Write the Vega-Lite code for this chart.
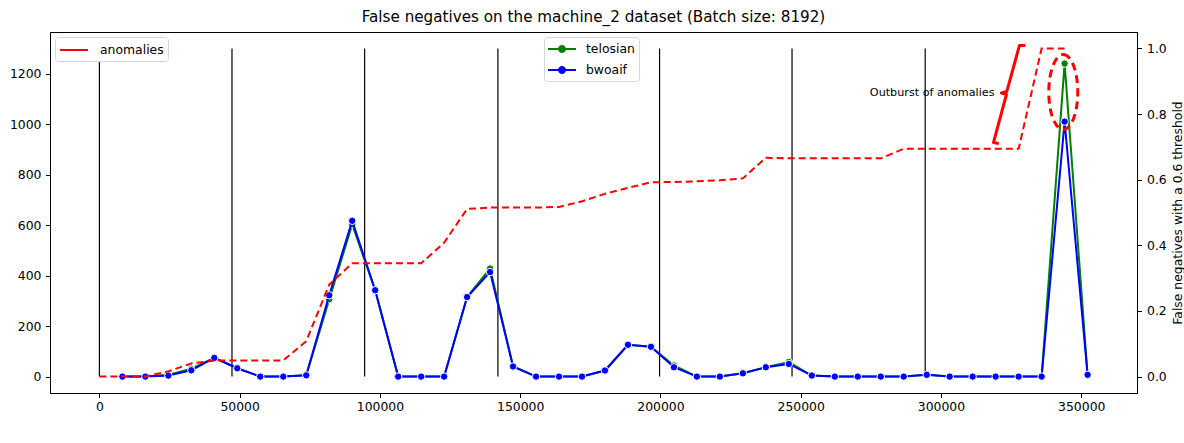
{
  "$schema": "https://vega.github.io/schema/vega-lite/v6.json",
  "width": 1087,
  "height": 361,
  "autosize": {"type": "none"},
  "padding": {"left": 50, "top": 32, "right": 47, "bottom": 50},
  "background": "white",
  "title": {"text": "False negatives on the machine_2 dataset (Batch size: 8192)", "fontSize": 15.2, "font": "DejaVu Sans", "fontWeight": "normal", "color": "#000", "offset": 7, "anchor": "middle"},
  "config": {
    "font": "DejaVu Sans",
    "view": {"stroke": "#000", "strokeWidth": 1},
    "axis": {"grid": false, "domainColor": "#000", "tickColor": "#000", "labelColor": "#000", "labelFontSize": 12.4, "tickSize": 4.5, "labelFont": "DejaVu Sans", "titleFont": "DejaVu Sans", "titleFontWeight": "normal", "titleColor": "#000", "titleFontSize": 12.4, "labelFlush": false}
  },
  "datasets": {
    "fn": [
      {"x": 8192, "telosian": 0, "bwoaif": 0},
      {"x": 16384, "telosian": 0, "bwoaif": 0},
      {"x": 24576, "telosian": 6, "bwoaif": 4},
      {"x": 32768, "telosian": 31, "bwoaif": 25},
      {"x": 40960, "telosian": 74, "bwoaif": 74},
      {"x": 49152, "telosian": 33, "bwoaif": 33},
      {"x": 57344, "telosian": 0, "bwoaif": 0},
      {"x": 65536, "telosian": 0, "bwoaif": 0},
      {"x": 73728, "telosian": 5, "bwoaif": 5},
      {"x": 81920, "telosian": 306, "bwoaif": 322},
      {"x": 90112, "telosian": 603, "bwoaif": 617},
      {"x": 98304, "telosian": 342, "bwoaif": 342},
      {"x": 106496, "telosian": 0, "bwoaif": 0},
      {"x": 114688, "telosian": 0, "bwoaif": 0},
      {"x": 122880, "telosian": 0, "bwoaif": 0},
      {"x": 131072, "telosian": 315, "bwoaif": 315},
      {"x": 139264, "telosian": 428, "bwoaif": 414},
      {"x": 147456, "telosian": 40, "bwoaif": 40},
      {"x": 155648, "telosian": 0, "bwoaif": 0},
      {"x": 163840, "telosian": 0, "bwoaif": 0},
      {"x": 172032, "telosian": 0, "bwoaif": 0},
      {"x": 180224, "telosian": 24, "bwoaif": 24},
      {"x": 188416, "telosian": 126, "bwoaif": 126},
      {"x": 196608, "telosian": 118, "bwoaif": 118},
      {"x": 204800, "telosian": 44, "bwoaif": 37},
      {"x": 212992, "telosian": 0, "bwoaif": 0},
      {"x": 221184, "telosian": 0, "bwoaif": 0},
      {"x": 229376, "telosian": 13, "bwoaif": 13},
      {"x": 237568, "telosian": 37, "bwoaif": 37},
      {"x": 245760, "telosian": 58, "bwoaif": 50},
      {"x": 253952, "telosian": 4, "bwoaif": 4},
      {"x": 262144, "telosian": 0, "bwoaif": 0},
      {"x": 270336, "telosian": 0, "bwoaif": 0},
      {"x": 278528, "telosian": 0, "bwoaif": 0},
      {"x": 286720, "telosian": 0, "bwoaif": 0},
      {"x": 294912, "telosian": 7, "bwoaif": 7},
      {"x": 303104, "telosian": 0, "bwoaif": 0},
      {"x": 311296, "telosian": 0, "bwoaif": 0},
      {"x": 319488, "telosian": 0, "bwoaif": 0},
      {"x": 327680, "telosian": 0, "bwoaif": 0},
      {"x": 335872, "telosian": 0, "bwoaif": 0},
      {"x": 344064, "telosian": 1240, "bwoaif": 1010},
      {"x": 352256, "telosian": 7, "bwoaif": 7}
    ],
    "anom": [
      {"x": 0, "value": 0, "series": "anomalies"},
      {"x": 8192, "value": 0, "series": "anomalies"},
      {"x": 16384, "value": 0, "series": "anomalies"},
      {"x": 24576, "value": 0.016, "series": "anomalies"},
      {"x": 32768, "value": 0.04, "series": "anomalies"},
      {"x": 40960, "value": 0.049, "series": "anomalies"},
      {"x": 49152, "value": 0.049, "series": "anomalies"},
      {"x": 57344, "value": 0.049, "series": "anomalies"},
      {"x": 65536, "value": 0.049, "series": "anomalies"},
      {"x": 73728, "value": 0.108, "series": "anomalies"},
      {"x": 81920, "value": 0.28, "series": "anomalies"},
      {"x": 90112, "value": 0.345, "series": "anomalies"},
      {"x": 98304, "value": 0.345, "series": "anomalies"},
      {"x": 106496, "value": 0.345, "series": "anomalies"},
      {"x": 114688, "value": 0.345, "series": "anomalies"},
      {"x": 122880, "value": 0.408, "series": "anomalies"},
      {"x": 131072, "value": 0.511, "series": "anomalies"},
      {"x": 139264, "value": 0.515, "series": "anomalies"},
      {"x": 147456, "value": 0.515, "series": "anomalies"},
      {"x": 155648, "value": 0.515, "series": "anomalies"},
      {"x": 163840, "value": 0.517, "series": "anomalies"},
      {"x": 172032, "value": 0.534, "series": "anomalies"},
      {"x": 180224, "value": 0.557, "series": "anomalies"},
      {"x": 188416, "value": 0.575, "series": "anomalies"},
      {"x": 196608, "value": 0.592, "series": "anomalies"},
      {"x": 204800, "value": 0.593, "series": "anomalies"},
      {"x": 212992, "value": 0.595, "series": "anomalies"},
      {"x": 221184, "value": 0.598, "series": "anomalies"},
      {"x": 229376, "value": 0.604, "series": "anomalies"},
      {"x": 237568, "value": 0.667, "series": "anomalies"},
      {"x": 245760, "value": 0.665, "series": "anomalies"},
      {"x": 253952, "value": 0.665, "series": "anomalies"},
      {"x": 262144, "value": 0.665, "series": "anomalies"},
      {"x": 270336, "value": 0.665, "series": "anomalies"},
      {"x": 278528, "value": 0.665, "series": "anomalies"},
      {"x": 286720, "value": 0.694, "series": "anomalies"},
      {"x": 294912, "value": 0.694, "series": "anomalies"},
      {"x": 303104, "value": 0.694, "series": "anomalies"},
      {"x": 311296, "value": 0.694, "series": "anomalies"},
      {"x": 319488, "value": 0.694, "series": "anomalies"},
      {"x": 327680, "value": 0.694, "series": "anomalies"},
      {"x": 335872, "value": 1.0, "series": "anomalies"},
      {"x": 344064, "value": 1.0, "series": "anomalies"}
    ],
    "vlines": [{"x": 0}, {"x": 47260}, {"x": 94550}, {"x": 142050}, {"x": 199680}, {"x": 246900}, {"x": 294370}],
    "bracket": [
      {"k": 1, "x": 330110, "value": 1.009},
      {"k": 2, "x": 327970, "value": 1.009},
      {"k": 3, "x": 323480, "value": 0.869},
      {"k": 4, "x": 321560, "value": 0.864},
      {"k": 5, "x": 323340, "value": 0.860},
      {"k": 6, "x": 318710, "value": 0.713},
      {"k": 7, "x": 320600, "value": 0.710}
    ],
    "ellipse": [{"x": 343590, "value": 0.867}],
    "note": [{"x": 319070, "value": 0.865, "label": "Outburst of anomalies"}]
  },
  "layer": [
    {
      "layer": [
        {
          "data": {"name": "vlines"},
          "mark": {"type": "rule", "color": "#000", "strokeWidth": 1.2},
          "encoding": {
            "x": {"field": "x", "type": "quantitative", "scale": {"domain": [-17613, 369869], "nice": false, "zero": false}, "axis": {"values": [0, 50000, 100000, 150000, 200000, 250000, 300000, 350000], "format": "d", "title": null, "labelPadding": 3}},
            "y": {"datum": 0, "type": "quantitative", "scale": {"domain": [-65, 1365], "nice": false, "zero": false}, "axis": {"values": [0, 200, 400, 600, 800, 1000, 1200], "format": "d", "title": null, "labelPadding": 4.5}},
            "y2": {"datum": 1300}
          }
        },
        {
          "data": {"name": "fn"},
          "transform": [{"fold": ["telosian"], "as": ["series", "value"]}],
          "mark": {"type": "line", "strokeWidth": 2},
          "encoding": {
            "x": {"field": "x", "type": "quantitative"},
            "y": {"field": "value", "type": "quantitative"},
            "color": {"field": "series", "type": "nominal", "scale": {"domain": ["telosian", "bwoaif"], "range": ["#008000", "#0000ff"]},
              "legend": {"orient": "none", "legendX": 494, "legendY": 5, "title": null, "symbolType": "M-1,-0.125H2.5V0.125H-1Z M1.25,0A0.5,0.5 0 1,1 0.25,0A0.5,0.5 0 1,1 1.25,0Z", "symbolSize": 256, "symbolStrokeWidth": 0, "labelOffset": 22, "rowPadding": 6, "labelFontSize": 12.4, "labelColor": "#000", "padding": 4, "strokeColor": "#d6d6d6", "fillColor": "#ffffff", "cornerRadius": 3, "encode": {"symbols": {"update": {"fill": {"scale": "color", "field": "value"}, "opacity": {"value": 1}}}}}}
          }
        },
        {
          "data": {"name": "fn"},
          "transform": [{"fold": ["telosian"], "as": ["series", "value"]}],
          "mark": {"type": "point", "filled": true, "size": 55, "stroke": "white", "strokeWidth": 1, "opacity": 1},
          "encoding": {
            "x": {"field": "x", "type": "quantitative"},
            "y": {"field": "value", "type": "quantitative"},
            "color": {"field": "series", "type": "nominal",
              "legend": {"orient": "none", "legendX": 494, "legendY": 5, "title": null, "symbolType": "M-1,-0.125H2.5V0.125H-1Z M1.25,0A0.5,0.5 0 1,1 0.25,0A0.5,0.5 0 1,1 1.25,0Z", "symbolSize": 256, "symbolStrokeWidth": 0, "labelOffset": 22, "rowPadding": 6, "labelFontSize": 12.4, "labelColor": "#000", "padding": 4, "strokeColor": "#d6d6d6", "fillColor": "#ffffff", "cornerRadius": 3, "encode": {"symbols": {"update": {"fill": {"scale": "color", "field": "value"}, "opacity": {"value": 1}}}}}}
          }
        },
        {
          "data": {"name": "fn"},
          "transform": [{"fold": ["bwoaif"], "as": ["series", "value"]}],
          "mark": {"type": "line", "strokeWidth": 2},
          "encoding": {
            "x": {"field": "x", "type": "quantitative"},
            "y": {"field": "value", "type": "quantitative"},
            "color": {"field": "series", "type": "nominal",
              "legend": {"orient": "none", "legendX": 494, "legendY": 5, "title": null, "symbolType": "M-1,-0.125H2.5V0.125H-1Z M1.25,0A0.5,0.5 0 1,1 0.25,0A0.5,0.5 0 1,1 1.25,0Z", "symbolSize": 256, "symbolStrokeWidth": 0, "labelOffset": 22, "rowPadding": 6, "labelFontSize": 12.4, "labelColor": "#000", "padding": 4, "strokeColor": "#d6d6d6", "fillColor": "#ffffff", "cornerRadius": 3, "encode": {"symbols": {"update": {"fill": {"scale": "color", "field": "value"}, "opacity": {"value": 1}}}}}}
          }
        },
        {
          "data": {"name": "fn"},
          "transform": [{"fold": ["bwoaif"], "as": ["series", "value"]}],
          "mark": {"type": "point", "filled": true, "size": 55, "stroke": "white", "strokeWidth": 1, "opacity": 1},
          "encoding": {
            "x": {"field": "x", "type": "quantitative"},
            "y": {"field": "value", "type": "quantitative"},
            "color": {"field": "series", "type": "nominal",
              "legend": {"orient": "none", "legendX": 494, "legendY": 5, "title": null, "symbolType": "M-1,-0.125H2.5V0.125H-1Z M1.25,0A0.5,0.5 0 1,1 0.25,0A0.5,0.5 0 1,1 1.25,0Z", "symbolSize": 256, "symbolStrokeWidth": 0, "labelOffset": 22, "rowPadding": 6, "labelFontSize": 12.4, "labelColor": "#000", "padding": 4, "strokeColor": "#d6d6d6", "fillColor": "#ffffff", "cornerRadius": 3, "encode": {"symbols": {"update": {"fill": {"scale": "color", "field": "value"}, "opacity": {"value": 1}}}}}}
          }
        }
      ]
    },
    {
      "layer": [
        {
          "data": {"name": "anom"},
          "mark": {"type": "line", "strokeWidth": 2, "strokeDash": [7, 4]},
          "encoding": {
            "x": {"field": "x", "type": "quantitative"},
            "y": {"field": "value", "type": "quantitative", "scale": {"domain": [-0.05, 1.05], "nice": false, "zero": false}, "axis": {"orient": "right", "values": [0, 0.2, 0.4, 0.6, 0.8, 1.0], "format": ".1f", "title": "False negatives with a 0.6 threshold", "titleAngle": 270, "titleBaseline": "top", "titlePadding": 5, "labelPadding": 5}},
            "stroke": {"field": "series", "type": "nominal", "scale": {"domain": ["anomalies"], "range": ["#ff0000"]},
              "legend": {"orient": "none", "legendX": 5, "legendY": 5, "title": null, "symbolType": "M-1,0H2.5", "symbolSize": 256, "symbolStrokeWidth": 2, "symbolDash": [100, 0], "labelOffset": 23, "labelFontSize": 12.4, "labelColor": "#000", "padding": 4, "strokeColor": "#d6d6d6", "fillColor": "#ffffff", "cornerRadius": 3}}
          }
        },
        {
          "data": {"name": "bracket"},
          "mark": {"type": "line", "color": "#ff0000", "strokeWidth": 3, "strokeJoin": "round"},
          "encoding": {
            "x": {"field": "x", "type": "quantitative"},
            "y": {"field": "value", "type": "quantitative"},
            "order": {"field": "k", "type": "quantitative"}
          }
        },
        {
          "data": {"name": "ellipse"},
          "mark": {"type": "point", "shape": "M0,-1A0.387,1 0 1,1 0,1A0.387,1 0 1,1 0,-1Z", "size": 5625, "filled": false, "stroke": "#ff0000", "strokeWidth": 3, "strokeDash": [8, 5], "opacity": 1},
          "encoding": {
            "x": {"field": "x", "type": "quantitative"},
            "y": {"field": "value", "type": "quantitative"}
          }
        },
        {
          "data": {"name": "note"},
          "mark": {"type": "text", "align": "right", "baseline": "middle", "fontSize": 11.2, "font": "DejaVu Sans", "color": "#000"},
          "encoding": {
            "x": {"field": "x", "type": "quantitative"},
            "y": {"field": "value", "type": "quantitative"},
            "text": {"field": "label"}
          }
        }
      ]
    }
  ],
  "resolve": {"scale": {"y": "independent"}}
}
